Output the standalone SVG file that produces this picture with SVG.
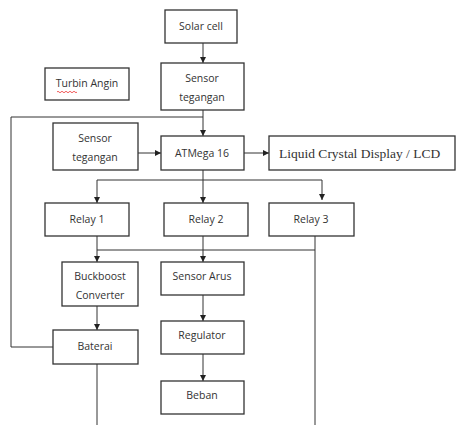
<svg xmlns="http://www.w3.org/2000/svg" width="461" height="425" viewBox="0 0 461 425">
<defs>
<marker id="ah" markerWidth="6" markerHeight="6" refX="6" refY="3" orient="auto" markerUnits="userSpaceOnUse">
<path d="M0,0 L6,3 L0,6 Z" fill="#222"/>
</marker>
<style>
.box{fill:#fff;stroke:#333;stroke-width:1.3}
.t{font-family:"Open Sans","Liberation Sans",sans-serif;font-size:10.5px;fill:#333;text-anchor:middle}
.s{font-family:"Liberation Serif","Times New Roman",serif;font-size:13.5px;font-weight:normal;fill:#333}
.c{fill:none;stroke:#333;stroke-width:1}
.a{fill:none;stroke:#333;stroke-width:1;marker-end:url(#ah)}
</style>
</defs>
<rect width="461" height="425" fill="#fff"/>
<g id="connectors">
<line class="a" x1="203" y1="43" x2="203" y2="63"/>
<polyline class="c" points="203,110 203,117 11,117 11,347 53,347"/>
<line class="a" x1="203" y1="117" x2="203" y2="136"/>
<line class="a" x1="138" y1="153" x2="161" y2="153"/>
<line class="a" x1="244" y1="153" x2="269" y2="153"/>
<line class="c" x1="203" y1="170" x2="203" y2="180"/>
<line class="c" x1="97" y1="180" x2="322" y2="180"/>
<line class="a" x1="97" y1="180" x2="97" y2="203"/>
<line class="a" x1="203" y1="180" x2="203" y2="203"/>
<line class="a" x1="322" y1="180" x2="322" y2="200"/>
<line class="c" x1="97" y1="250" x2="315" y2="250"/>
<line class="a" x1="97" y1="236" x2="97" y2="262"/>
<line class="a" x1="203" y1="236" x2="203" y2="262"/>
<line class="c" x1="315" y1="236" x2="315" y2="425"/>
<line class="a" x1="97" y1="306" x2="97" y2="330"/>
<line class="c" x1="97" y1="364" x2="97" y2="425"/>
<line class="a" x1="203" y1="295" x2="203" y2="321"/>
<line class="a" x1="203" y1="354" x2="203" y2="381"/>
</g>
<g id="solar"><rect class="box" x="165" y="10" width="72" height="33"/><text class="t" x="201" y="30">Solar cell</text></g>
<g id="sensor1"><rect class="box" x="161" y="63" width="83" height="47"/><text class="t" x="202" y="82">Sensor</text><text class="t" x="202" y="101">tegangan</text></g>
<g id="turbin"><rect class="box" x="45" y="68" width="84" height="32"/><text class="t" x="87" y="87">Turbin Angin</text>
<path d="M57,92 q1,-1.5 2,0 t2,0 t2,0 t2,0 t2,0 t2,0 t2,0 t2,0 t2,0 t2,0" fill="none" stroke="#e33" stroke-width="0.8"/></g>
<g id="sensor2"><rect class="box" x="53" y="123" width="85" height="47"/><text class="t" x="95" y="142">Sensor</text><text class="t" x="95" y="161">tegangan</text></g>
<g id="atmega"><rect class="box" x="161" y="136" width="83" height="34"/><text class="t" x="202" y="157">ATMega 16</text></g>
<g id="lcd"><rect class="box" x="269" y="136" width="186" height="34"/><text class="s" x="279" y="158">Liquid Crystal Display / LCD</text></g>
<g id="relay1"><rect class="box" x="45" y="203" width="84" height="33"/><text class="t" x="87" y="223">Relay 1</text></g>
<g id="relay2"><rect class="box" x="164" y="203" width="84" height="33"/><text class="t" x="206" y="223">Relay 2</text></g>
<g id="relay3"><rect class="box" x="269" y="203" width="85" height="33"/><text class="t" x="311" y="223">Relay 3</text></g>
<g id="buck"><rect class="box" x="62" y="262" width="76" height="44"/><text class="t" x="100" y="280">Buckboost</text><text class="t" x="100" y="299">Converter</text></g>
<g id="arus"><rect class="box" x="161" y="262" width="83" height="33"/><text class="t" x="202" y="280">Sensor Arus</text></g>
<g id="baterai"><rect class="box" x="53" y="330" width="85" height="34"/><text class="t" x="95" y="350">Baterai</text></g>
<g id="regulator"><rect class="box" x="161" y="321" width="83" height="33"/><text class="t" x="202" y="339">Regulator</text></g>
<g id="beban"><rect class="box" x="161" y="381" width="83" height="33"/><text class="t" x="202" y="399">Beban</text></g>
</svg>
